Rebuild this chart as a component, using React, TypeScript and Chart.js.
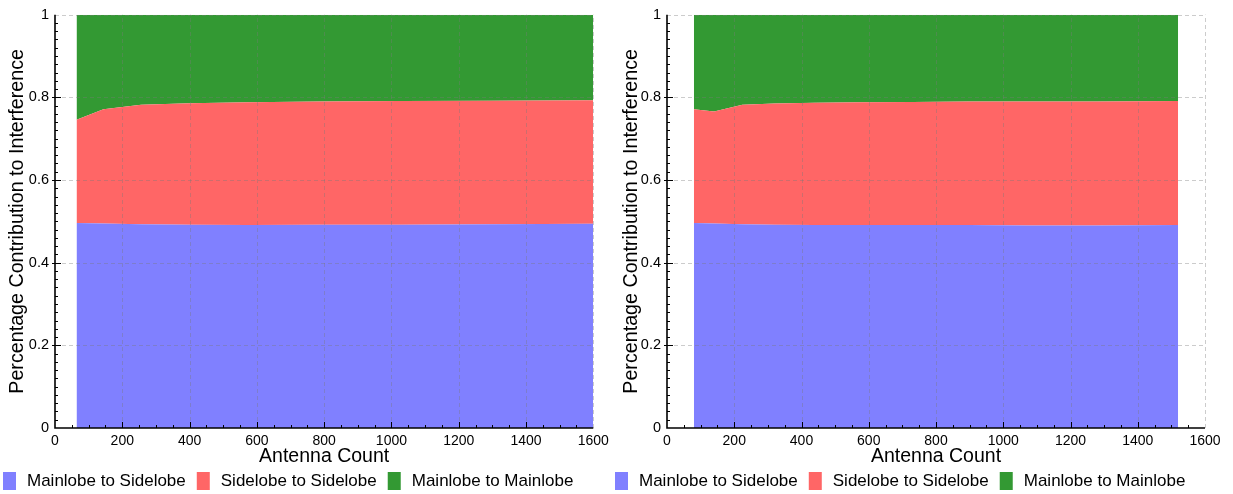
import React, { useEffect, useRef } from "react";
import { Chart, registerables } from "chart.js";

Chart.register(...registerables);

// ---- Data ----
const SERIES_LABELS = ["Mainlobe to Sidelobe", "Sidelobe to Sidelobe", "Mainlobe to Mainlobe"];
const SERIES_COLORS = ["#8080ff", "#ff6666", "#339933"];

const leftAntennas = [64, 144, 256, 400, 576, 784, 1024, 1296, 1600];
const leftMainSide = [0.496, 0.495, 0.493, 0.492, 0.491, 0.492, 0.492, 0.493, 0.494];
const leftSideSide = [0.25, 0.276, 0.289, 0.294, 0.297, 0.298, 0.299, 0.299, 0.299];
const leftMainMain = [0.254, 0.229, 0.218, 0.214, 0.212, 0.21, 0.209, 0.208, 0.207];

const rightAntennas = [80, 140, 224, 320, 440, 576, 728, 896, 1080, 1280, 1520];
const rightMainSide = [0.496, 0.495, 0.493, 0.492, 0.491, 0.491, 0.491, 0.491, 0.49, 0.49, 0.491];
const rightSideSide = [0.275, 0.271, 0.289, 0.293, 0.296, 0.297, 0.298, 0.299, 0.3, 0.3, 0.3];
const rightMainMain = [0.229, 0.234, 0.218, 0.215, 0.213, 0.212, 0.211, 0.21, 0.21, 0.21, 0.209];

const X_MIN = 0;
const X_MAX = 1600;
const X_STEP = 200;
const X_MINOR = 50;
const Y_MIN = 0;
const Y_MAX = 1;
const Y_STEP = 0.2;
const Y_MINOR = 0.02;

const X_TITLE = "Antenna Count";
const Y_TITLE = "Percentage Contribution to Interference";

const FONT_FAMILY = '"Liberation Sans", Arial, Helvetica, sans-serif';
Chart.defaults.font.family = FONT_FAMILY;
Chart.defaults.color = "#000";

const fmtTick = (v: any) => String(Math.round(Number(v) * 1000) / 1000);

const overlayPlugin = {
  id: "overlayGridAxes",
  afterDatasetsDraw(chart: any) {
    const ctx = chart.ctx;
    const { left, right, top, bottom } = chart.chartArea;
    const xs = chart.scales.x;
    const ys = chart.scales.y;
    ctx.save();
    // dashed grid on top of fills
    ctx.strokeStyle = "rgba(120,120,120,0.38)";
    ctx.lineWidth = 1;
    ctx.setLineDash([4, 3]);
    const nx = Math.round((X_MAX - X_MIN) / X_STEP);
    for (let k = 1; k <= nx; k++) {
      const px = Math.round(xs.getPixelForValue(X_MIN + k * X_STEP)) + 0.5;
      ctx.beginPath();
      ctx.moveTo(px, bottom);
      ctx.lineTo(px, top);
      ctx.stroke();
    }
    const ny = Math.round((Y_MAX - Y_MIN) / Y_STEP);
    for (let k = 1; k <= ny; k++) {
      const py = Math.round(ys.getPixelForValue(Y_MIN + k * Y_STEP)) + 0.5;
      ctx.beginPath();
      ctx.moveTo(left, py);
      ctx.lineTo(right, py);
      ctx.stroke();
    }
    ctx.setLineDash([]);
    // ticks
    ctx.strokeStyle = "#000";
    ctx.lineWidth = 1;
    const nxm = Math.round((X_MAX - X_MIN) / X_MINOR);
    const majorEveryX = Math.round(X_STEP / X_MINOR);
    for (let k = 1; k < nxm; k++) {
      const px = Math.round(xs.getPixelForValue(X_MIN + k * X_MINOR)) + 0.5;
      const len = k % majorEveryX === 0 ? 6 : 3;
      ctx.beginPath();
      ctx.moveTo(px, bottom);
      ctx.lineTo(px, bottom - len);
      ctx.stroke();
    }
    const nym = Math.round((Y_MAX - Y_MIN) / Y_MINOR);
    const majorEveryY = Math.round(Y_STEP / Y_MINOR);
    for (let k = 1; k < nym; k++) {
      const py = Math.round(ys.getPixelForValue(Y_MIN + k * Y_MINOR)) + 0.5;
      const major = k % majorEveryY === 0;
      ctx.beginPath();
      ctx.moveTo(major ? left - 3 : left, py);
      ctx.lineTo(left + (major ? 6 : 3), py);
      ctx.stroke();
    }
    // axis lines
    ctx.lineWidth = 1.6;
    ctx.beginPath();
    ctx.moveTo(left, top);
    ctx.lineTo(left, bottom);
    ctx.lineTo(right, bottom);
    ctx.stroke();
    ctx.restore();
  },
};

const makeLegendPlugin = (x0: number) => ({
  id: "customLegend",
  afterDraw(chart: any) {
    const ctx = chart.ctx;
    ctx.save();
    ctx.font = `17px ${FONT_FAMILY}`;
    ctx.textBaseline = "middle";
    ctx.textAlign = "left";
    let x = x0;
    const y = 472;
    chart.data.datasets.forEach((ds: any) => {
      ctx.fillStyle = ds.backgroundColor;
      ctx.fillRect(x, y, 13, 18);
      ctx.fillStyle = "#000";
      ctx.fillText(ds.label, x + 24, y + 9.5);
      x += 24 + ctx.measureText(ds.label).width + 11;
    });
    ctx.restore();
  },
});

function StackChart(props: {
  xs: number[];
  series: number[][];
  width: number;
  padRight: number;
  yAxisWidth: number;
  legendX: number;
}) {
  const ref = useRef<HTMLCanvasElement>(null);
  useEffect(() => {
    const { xs, series, padRight, yAxisWidth, legendX } = props;
    const chart = new Chart(ref.current as HTMLCanvasElement, {
      type: "line",
      data: {
        datasets: series.map((vals, i) => ({
          label: SERIES_LABELS[i],
          data: xs.map((x, j) => ({ x, y: vals[j] })),
          backgroundColor: SERIES_COLORS[i],
          borderColor: SERIES_COLORS[i],
          borderWidth: 0,
          pointRadius: 0,
          tension: 0,
          fill: i === 0 ? "origin" : "-1",
        })),
      },
      options: {
        animation: false,
        responsive: false,
        layout: { padding: { left: 0, right: padRight, top: 14, bottom: 22 } },
        plugins: { legend: { display: false }, tooltip: { enabled: false } },
        scales: {
          x: {
            type: "linear",
            min: X_MIN,
            max: X_MAX,
            grid: { display: false, drawTicks: false },
            border: { display: false },
            ticks: {
              stepSize: X_STEP,
              padding: 5,
              font: { size: 14 },
              color: "#000",
              maxRotation: 0,
              autoSkip: false,
              callback: fmtTick,
            },
            title: { display: true, text: X_TITLE, font: { size: 19.5 }, color: "#000", padding: { top: 0, bottom: 3.4 } },
            afterFit: (s: any) => {
              s.height = 44;
            },
          },
          y: {
            stacked: true,
            min: Y_MIN,
            max: Y_MAX,
            grid: { display: false, drawTicks: false },
            border: { display: false },
            ticks: { stepSize: Y_STEP, padding: 6, font: { size: 14.5 }, color: "#000", callback: fmtTick },
            title: { display: true, text: Y_TITLE, font: { size: 19.7 }, color: "#000", padding: { top: 6, bottom: 0 } },
            afterFit: (s: any) => {
              s.width = yAxisWidth;
            },
          },
        },
      },
      plugins: [overlayPlugin, makeLegendPlugin(legendX)],
    } as any);
    return () => chart.destroy();
  }, []);
  return (
    <canvas
      ref={ref}
      width={props.width}
      height={494}
      style={{ display: "block", width: props.width, height: 494 }}
    />
  );
}

export default function App() {
  return (
    <div style={{ position: "absolute", left: 0, top: 0, width: 1233, height: 494, display: "flex", background: "#fff" }}>
      <StackChart
        xs={leftAntennas}
        series={[leftMainSide, leftSideSide, leftMainMain]}
        width={614}
        padRight={20.7}
        yAxisWidth={55}
        legendX={3}
      />
      <StackChart
        xs={rightAntennas}
        series={[rightMainSide, rightSideSide, rightMainMain]}
        width={619}
        padRight={28}
        yAxisWidth={53}
        legendX={1}
      />
    </div>
  );
}
